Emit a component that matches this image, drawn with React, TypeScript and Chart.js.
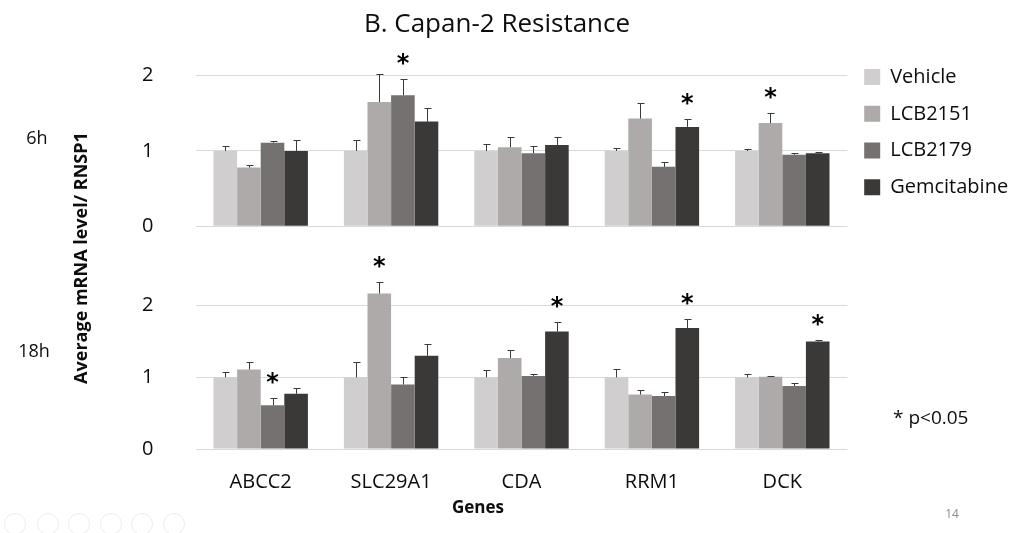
import React, { useEffect, useRef } from 'react';
import { Chart, registerables } from 'chart.js';

Chart.register(...registerables);

// ---------- data ----------
const genes = ['ABCC2', 'SLC29A1', 'CDA', 'RRM1', 'DCK'];
const seriesNames = ['Vehicle', 'LCB2151', 'LCB2179', 'Gemcitabine'];
const seriesColors = ['#D0CECE', '#AEAAAA', '#767171', '#3B3838'];
const yTickValues = [0, 1, 2];

// 6h panel (means)
const vehicle6h = [1.0, 1.0, 1.0, 1.0, 1.0];
const lcb2151_6h = [0.78, 1.65, 1.05, 1.43, 1.37];
const lcb2179_6h = [1.11, 1.74, 0.97, 0.79, 0.95];
const gemcitabine6h = [1.0, 1.39, 1.08, 1.32, 0.97];
// 6h panel (upper error)
const vehicle6hErr = [0.06, 0.15, 0.09, 0.04, 0.02];
const lcb2151_6hErr = [0.03, 0.37, 0.13, 0.21, 0.13];
const lcb2179_6hErr = [0.02, 0.21, 0.09, 0.07, 0.02];
const gemcitabine6hErr = [0.15, 0.18, 0.11, 0.11, 0.02];

// 18h panel (means)
const vehicle18h = [1.0, 1.0, 1.0, 1.0, 1.0];
const lcb2151_18h = [1.11, 2.17, 1.27, 0.76, 1.01];
const lcb2179_18h = [0.61, 0.9, 1.02, 0.74, 0.88];
const gemcitabine18h = [0.77, 1.3, 1.64, 1.69, 1.5];
// 18h panel (upper error)
const vehicle18hErr = [0.08, 0.22, 0.1, 0.12, 0.04];
const lcb2151_18hErr = [0.1, 0.16, 0.11, 0.06, 0.01];
const lcb2179_18hErr = [0.1, 0.1, 0.02, 0.06, 0.04];
const gemcitabine18hErr = [0.085, 0.17, 0.13, 0.13, 0.02];

// significance marks: [gene, series]
const sig6h = [
  ['SLC29A1', 'LCB2179'],
  ['RRM1', 'Gemcitabine'],
  ['DCK', 'LCB2151'],
];
const sig18h = [
  ['ABCC2', 'LCB2179'],
  ['SLC29A1', 'LCB2151'],
  ['CDA', 'Gemcitabine'],
  ['RRM1', 'Gemcitabine'],
  ['DCK', 'Gemcitabine'],
];

// ---------- styling ----------
const FONT = "'Open Sans', 'Liberation Sans', sans-serif";
const TEXT = '#0d0d0d';
const GRID = '#d9d9d9';
const TICK_LABEL_LEFT = 142;
const PLOT_LEFT = 195.5;
const PLOT_RIGHT_GAP = 174.5;

function buildDatasets(values: number[][], errors: number[][], sig: string[][]) {
  return seriesNames.map((name, si) => ({
    label: name,
    data: values[si],
    errors: errors[si],
    sig: genes.map((g) => sig.some(([sg, ss]) => sg === g && ss === name)),
    backgroundColor: seriesColors[si],
    borderWidth: 0,
    categoryPercentage: 0.724,
    barPercentage: 1.0,
  }));
}

const errorBarPlugin = {
  id: 'errorBars',
  afterDatasetsDraw(chart: any) {
    const { ctx } = chart;
    const yScale = chart.scales.y;
    chart.data.datasets.forEach((ds: any, di: number) => {
      const meta = chart.getDatasetMeta(di);
      meta.data.forEach((bar: any, i: number) => {
        const v = ds.data[i];
        const e = ds.errors[i];
        const yTop = Math.round(yScale.getPixelForValue(v + e)) + 0.5;
        const yBase = yScale.getPixelForValue(v);
        const x = Math.round(bar.x) + 0.5;
        ctx.save();
        ctx.strokeStyle = '#3a3a3a';
        ctx.lineWidth = 1;
        ctx.beginPath();
        ctx.moveTo(x, yBase);
        ctx.lineTo(x, yTop);
        ctx.moveTo(x - 3, yTop);
        ctx.lineTo(x + 4, yTop);
        ctx.stroke();
        if (ds.sig[i]) {
          ctx.font = "bold 24px 'DejaVu Sans', sans-serif";
          ctx.fillStyle = '#000';
          ctx.textAlign = 'center';
          ctx.textBaseline = 'alphabetic';
          const m = ctx.measureText('*');
          const cy = yTop - 21;
          const base = cy + (m.actualBoundingBoxAscent - m.actualBoundingBoxDescent) / 2;
          ctx.fillText('*', bar.x, base);
        }
        ctx.restore();
      });
    });
  },
};

const legendWidthPlugin = {
  id: 'legendWidth',
  afterInit(chart: any) {
    const lg = chart.legend;
    if (lg) {
      const orig = lg.fit.bind(lg);
      lg.fit = function () {
        orig();
        this.width = PLOT_RIGHT_GAP;
      };
    }
  },
};

function yScaleOptions() {
  return {
    min: 0,
    max: 2.5,
    afterBuildTicks: (s: any) => {
      s.ticks = yTickValues.map((v) => ({ value: v }));
    },
    afterFit: (s: any) => {
      s.width = PLOT_LEFT - TICK_LABEL_LEFT;
    },
    ticks: {
      padding: 0,
      crossAlign: 'far',
      font: { family: FONT, size: 20, lineHeight: 1 },
      color: TEXT,
    },
    grid: { color: GRID, lineWidth: 1, drawTicks: false },
    border: { display: false },
  };
}

export default function App() {
  const topRef = useRef<HTMLCanvasElement>(null);
  const botRef = useRef<HTMLCanvasElement>(null);

  useEffect(() => {
    const top = new Chart(topRef.current as HTMLCanvasElement, {
      type: 'bar',
      data: {
        labels: genes,
        datasets: buildDatasets(
          [vehicle6h, lcb2151_6h, lcb2179_6h, gemcitabine6h],
          [vehicle6hErr, lcb2151_6hErr, lcb2179_6hErr, gemcitabine6hErr],
          sig6h
        ) as any,
      },
      options: {
        responsive: false,
        animation: false,
        devicePixelRatio: 1,
        layout: { padding: { top: 38, bottom: 13.7, left: TICK_LABEL_LEFT, right: 0 } },
        plugins: {
          legend: {
            position: 'right',
            labels: {
              boxWidth: 16,
              boxHeight: 16,
              padding: 16.7,
              color: TEXT,
              font: { family: FONT, size: 20 },
            },
          },
          tooltip: { enabled: false },
        },
        scales: {
          x: { display: false },
          y: yScaleOptions() as any,
        },
      },
      plugins: [errorBarPlugin, legendWidthPlugin],
    });

    const bot = new Chart(botRef.current as HTMLCanvasElement, {
      type: 'bar',
      data: {
        labels: genes,
        datasets: buildDatasets(
          [vehicle18h, lcb2151_18h, lcb2179_18h, gemcitabine18h],
          [vehicle18hErr, lcb2151_18hErr, lcb2179_18hErr, gemcitabine18hErr],
          sig18h
        ) as any,
      },
      options: {
        responsive: false,
        animation: false,
        devicePixelRatio: 1,
        layout: { padding: { top: 29.9, bottom: 0, left: TICK_LABEL_LEFT, right: PLOT_RIGHT_GAP } },
        plugins: {
          legend: { display: false },
          tooltip: { enabled: false },
        },
        scales: {
          x: {
            afterFit: (s: any) => {
              s.height = 84;
            },
            ticks: {
              padding: 13,
              maxRotation: 0,
              font: { family: FONT, size: 20 },
              color: TEXT,
            },
            grid: { display: false },
            border: { display: false },
          } as any,
          y: yScaleOptions() as any,
        },
      },
      plugins: [errorBarPlugin],
    });

    return () => {
      top.destroy();
      bot.destroy();
    };
  }, []);

  const abs = (extra: React.CSSProperties): React.CSSProperties => ({
    position: 'absolute',
    whiteSpace: 'nowrap',
    fontFamily: FONT,
    color: TEXT,
    lineHeight: 1,
    ...extra,
  });

  const iconXs = [15, 48, 79, 111, 142, 174];

  return (
    <div
      style={{
        position: 'fixed',
        left: 0,
        top: 0,
        width: 1022,
        height: 533,
        background: '#fff',
        overflow: 'hidden',
      }}
    >
      <canvas ref={topRef} width={1022} height={240} style={{ position: 'absolute', left: 0, top: 0 }} />
      <canvas ref={botRef} width={1022} height={293} style={{ position: 'absolute', left: 0, top: 240 }} />

      <div style={abs({ left: 497, top: 22, fontSize: 26, transform: 'translate(-50%, -50%)' })}>
        B. Capan-2 Resistance
      </div>
      <div style={abs({ left: 37, top: 137, fontSize: 18, transform: 'translate(-50%, -50%)' })}>6h</div>
      <div style={abs({ left: 34, top: 350, fontSize: 18, transform: 'translate(-50%, -50%)' })}>18h</div>
      <div
        style={abs({
          left: 80,
          top: 258,
          fontSize: 18,
          fontWeight: 'bold',
          transform: 'translate(-50%, -50%) rotate(-90deg)',
        })}
      >
        Average mRNA level/ RNSP1
      </div>
      <div style={abs({ left: 478, top: 506, fontSize: 17, fontWeight: 'bold', transform: 'translate(-50%, -50%)' })}>
        Genes
      </div>
      <div style={abs({ left: 893, top: 417, fontSize: 19, transform: 'translateY(-50%)' })}>* p&lt;0.05</div>
      <div style={abs({ left: 952, top: 514, fontSize: 12, color: '#8c8c8c', transform: 'translate(-50%, -50%)' })}>
        14
      </div>
      {iconXs.map((x, i) => (
        <div
          key={i}
          style={{
            position: 'absolute',
            left: x - 11,
            top: 513,
            width: 22,
            height: 22,
            borderRadius: '50%',
            border: '1px solid #ececec',
            boxSizing: 'border-box',
          }}
        />
      ))}
    </div>
  );
}
